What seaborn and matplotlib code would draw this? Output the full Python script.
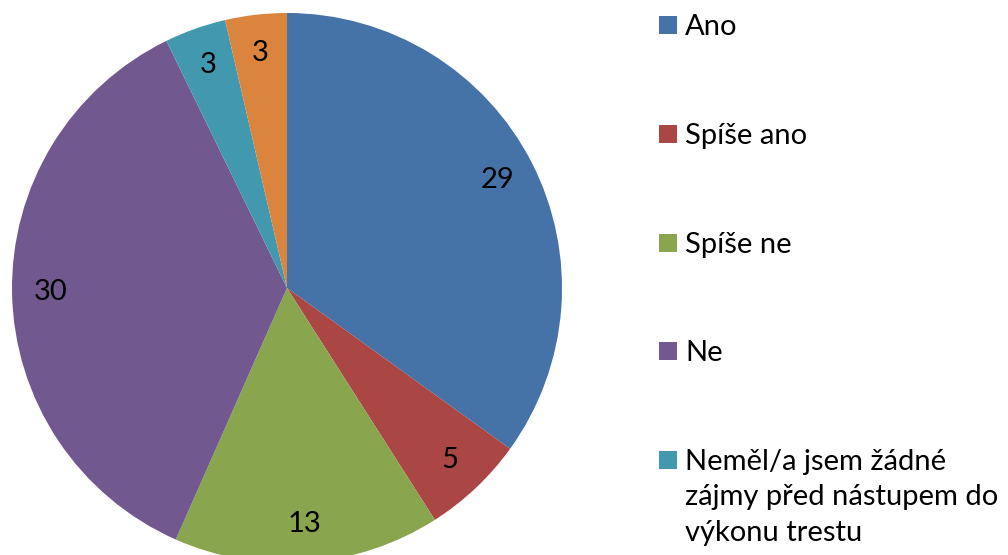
import matplotlib
matplotlib.use("Agg")
import matplotlib.pyplot as plt
import seaborn as sns
from matplotlib.patches import Rectangle

# ---- data ----
labels = ["Ano", "Spíše ano", "Spíše ne", "Ne",
          "Neměl/a jsem žádné\nzájmy před nástupem do\nvýkonu trestu", "Jiné"]
values = [29, 5, 13, 30, 3, 3]
colors = ["#4572A7", "#AA4643", "#89A54E", "#71588F", "#4198AF", "#DB843D"]

sns.set_theme(style="white")
plt.rcParams['font.family'] = ['Lato', 'DejaVu Sans']

W, H = 1008, 555
fig = plt.figure(figsize=(W / 100, H / 100), dpi=100)

# pie centre (287, 288) px, radius 275 px
cx, cy, r = 287, 288, 275
ax = fig.add_axes([(cx - r) / W, 1 - (cy + r) / H, 2 * r / W, 2 * r / H])
total = sum(values)
wedges, texts, autotexts = ax.pie(
    values, colors=colors, startangle=90, counterclock=False,
    autopct=lambda p: f"{round(p * total / 100):.0f}", pctdistance=0.86,
    wedgeprops=dict(linewidth=0), textprops=dict(fontsize=21, color="black"))
ax.set_xlim(-1, 1)
ax.set_ylim(-1, 1)
ax.set_aspect("equal")

# ---- legend on the right (the last entry falls below the picture) ----
step = 108.75
for i, (lab, col) in enumerate(zip(labels, colors)):
    top = 16 + i * step
    if top > H - 40:
        continue
    fig.add_artist(Rectangle((659 / W, 1 - (top + 18) / H), 18 / W, 18 / H,
                             facecolor=col, edgecolor="none",
                             transform=fig.transFigure))
    fig.text(685 / W, 1 - (top - 2) / H, lab, fontsize=21, va="top", ha="left",
             color="black", linespacing=1.45)

fig.savefig("out.png", dpi=100)
